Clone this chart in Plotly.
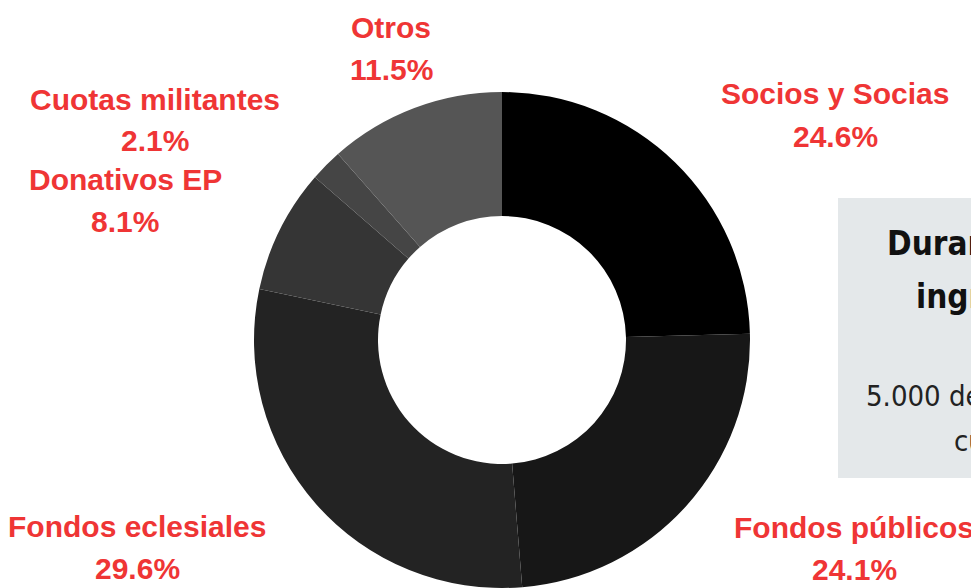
import plotly.graph_objects as go

# ---- data ----
categories = ["Socios y Socias", "Fondos públicos", "Fondos eclesiales",
              "Donativos EP", "Cuotas militantes", "Otros"]
shares = [24.6, 24.1, 29.6, 8.1, 2.1, 11.5]
slice_colors = ["#000000", "#171717", "#232323", "#353535", "#454545", "#555555"]

# label placement (screen pixel centers of label block: x, baseline of first line)
label_pos = [(835, 105), (854, 538), (137, 537), (125, 191), (155, 110), (391, 38)]

OFF = 8              # page body margin
W, H = 979 - OFF, 588 - OFF
RED = "#ef3535"
FS = 30
LINE_GAP = 42


def px(x):
    return (x - OFF) / W


def py(y):
    return 1 - (y - OFF) / H


fig = go.Figure()
cx, cy, r = 502, 340, 248
fig.add_trace(go.Pie(
    labels=categories,
    values=shares,
    hole=0.5,
    sort=False,
    direction="clockwise",
    rotation=0,
    marker=dict(colors=slice_colors, line=dict(width=0)),
    textinfo="none",
    hoverinfo="label+percent",
    showlegend=False,
    domain=dict(x=[px(cx - r), px(cx + r)], y=[max(0, py(cy + r)), min(1, py(cy - r))]),
))

annotations = []
for name, val, (x, yb) in zip(categories, shares, label_pos):
    for i, txt in enumerate([name, f"{val:.1f}%"]):
        annotations.append(dict(
            x=px(x), y=py(yb + i * LINE_GAP - 11), xref="paper", yref="paper",
            text=f"<b>{txt}</b>", showarrow=False, xanchor="center", yanchor="middle",
            font=dict(family="Liberation Sans, Arial, sans-serif", size=FS, color=RED),
        ))

# info box on the right (partially outside the view)
box_font = "DejaVu Sans Condensed, DejaVu Sans, sans-serif"
box_lines = [
    ("<b>Durante 2019</b>", 885, 254, "#111111", 33),
    ("<b>ingresos</b>", 914, 307, "#111111", 33),
    ("5.000 de euros", 864, 407, "#222222", 29),
    ("cuotas", 952, 452, "#222222", 29),
]
for txt, x, yb, col, size in box_lines:
    annotations.append(dict(
        x=px(x), y=py(yb - 11), xref="paper", yref="paper",
        text=txt, showarrow=False, xanchor="left", yanchor="middle",
        font=dict(family=box_font, size=size, color=col),
    ))

fig.update_layout(
    width=W, height=H,
    margin=dict(l=0, r=0, t=0, b=0),
    paper_bgcolor="#ffffff",
    plot_bgcolor="#ffffff",
    shapes=[dict(type="rect", xref="paper", yref="paper",
                 x0=px(838), x1=px(1200), y0=py(478), y1=py(198),
                 fillcolor="#e4e8ea", line=dict(width=0), layer="below")],
    annotations=annotations,
)

fig.write_html("out.html")
